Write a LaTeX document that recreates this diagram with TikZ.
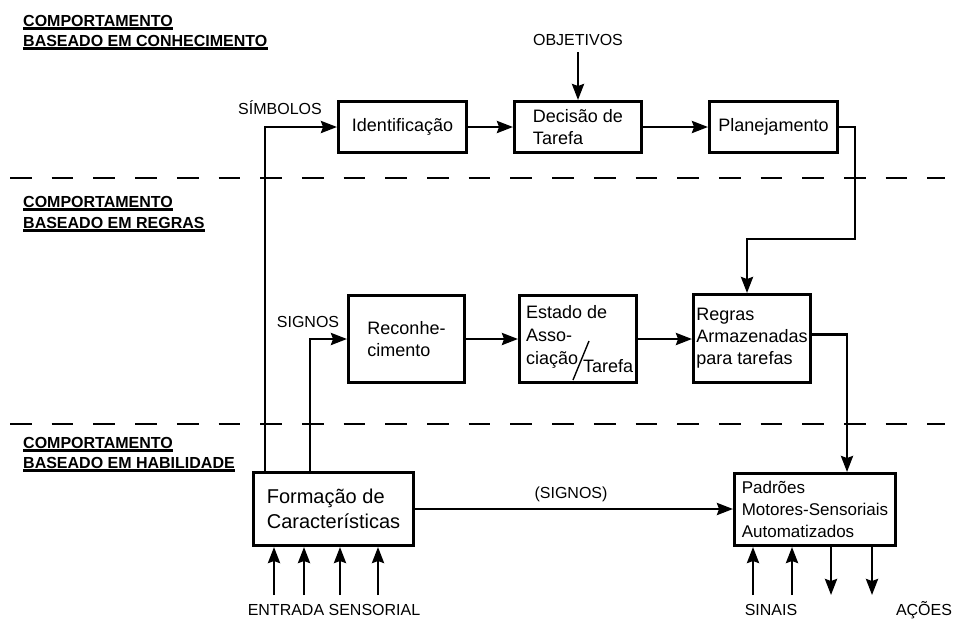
\documentclass[tikz,border=0pt]{standalone}
\usepackage{fontspec}
\setmainfont{Liberation Sans}
\usetikzlibrary{arrows.meta,calc}
\begin{document}
\begin{tikzpicture}[x=1pt,y=-1pt,
  box/.style={draw,line width=2.7pt,inner sep=0pt,align=left,
    font=\fontsize{18}{22}\selectfont},
  conn/.style={line width=2.7pt},
  arr/.style={conn,-{Stealth[length=16pt,width=12pt,inset=2pt]}},
  lbl/.style={inner sep=0pt,anchor=base,font=\fontsize{16}{19}\selectfont},
  txt/.style={inner sep=0pt,anchor=base west,font=\fontsize{18}{22}\selectfont},
  head/.style={inner sep=0pt,anchor=base west,font=\bfseries\fontsize{16}{19}\selectfont},
  uline/.style={line width=2.2pt},
  sep/.style={line width=2.5pt,dash pattern=on 21.7pt off 20pt}]

\useasboundingbox (0,0) rectangle (957,619);

% level headings, each line underlined
\node[head] (h1a) at (23,26) {COMPORTAMENTO};
\node[head] (h1b) at (23,46) {BASEADO EM CONHECIMENTO};
\node[head] (h2a) at (23,207) {COMPORTAMENTO};
\node[head] (h2b) at (23,228) {BASEADO EM REGRAS};
\node[head] (h3a) at (23,448) {COMPORTAMENTO};
\node[head] (h3b) at (23,468) {BASEADO EM HABILIDADE};
\foreach \h in {h1a,h1b,h2a,h2b,h3a,h3b}
  \draw[uline] ([yshift=-2.5pt]\h.base west) -- ([yshift=-2.5pt]\h.base east);

% level separators
\draw[sep] (10,178) -- (945,178);
\draw[sep] (10,424) -- (945,424);

% boxes
\node[box,minimum width=128.3pt,minimum height=51.3pt] (ident) at (402.5,127) {Identificação};
\node[box,minimum width=127.3pt,minimum height=51.3pt] (dec) at (578,127) {Decisão de\\Tarefa};
\node[box,minimum width=128.3pt,minimum height=51.3pt] (plan) at (773.5,127) {Planejamento};
\node[box,minimum width=116.3pt,minimum height=87.3pt] (recon) at (406.5,339) {Reconhe-\\cimento};
\node[box,minimum width=117.3pt,minimum height=87.3pt] (estado) at (578,339) {};
\node[box,minimum width=117.3pt,minimum height=88.3pt] (regras) at (752,338.5) {Regras\\Armazenadas\\para tarefas};
\node[box,minimum width=160.3pt,minimum height=73.3pt,
  font=\fontsize{20}{25}\selectfont] (form) at (333.5,509) {Formação de\\Características};
\node[box,minimum width=161.3pt,minimum height=72.3pt,
  font=\fontsize{17}{22}\selectfont] (padroes) at (815,509.5) {Padrões\\Motores-Sensoriais\\Automatizados};

% text of the association box
\node[txt] (e1) at (526,318) {Estado de};
\node[txt] (e2) at (526,341) {Asso-};
\node[txt] (e3) at (526,364) {ciação};
\node[txt] (e4) at (583,372) {Tarefa};
\coordinate (sl1) at (573,380);
\coordinate (sl2) at (589,341);
\draw[line width=1.4pt] (sl1) -- (sl2);

% labels
\node[lbl] (obj) at (578,45) {OBJETIVOS};
\node[lbl] (simb) at (280,114) {SÍMBOLOS};
\node[lbl] (sig) at (308,327) {SIGNOS};
\node[lbl] (sigp) at (571,498) {(SIGNOS)};
\node[lbl] (entr) at (334,615) {ENTRADA SENSORIAL};
\node[lbl] (sinais) at (771,615) {SINAIS};
\node[lbl] (acoes) at (924,615) {AÇÕES};

% coordinates for the free ends and bends
\coordinate (xs) at (265,0);
\coordinate (xg) at (310,0);
\coordinate (bend) at (855,239);
\coordinate (xr) at (847,0);
\coordinate (i1) at (274,595);
\coordinate (i2) at (304,595);
\coordinate (i3) at (340,595);
\coordinate (i4) at (378,595);
\coordinate (s1) at (753,595);
\coordinate (s2) at (792,595);
\coordinate (a1) at (831,595);
\coordinate (a2) at (872,595);

% connectors
\draw[arr] ([yshift=-7pt]obj.south) -- (dec.north);
\draw[arr] (ident.east) -- (dec.west);
\draw[arr] (dec.east) -- (plan.west);
\draw[arr] (plan.east) -| (bend) -| ([xshift=-5pt]regras.north);
\draw[arr] (form.north -| xs) |- (ident.west);
\draw[arr] (form.north -| xg) |- (recon.west);
\draw[arr] (recon.east) -- (estado.west);
\draw[arr] (estado.east) -- (regras.west |- estado.east);
\draw[arr] ([yshift=4pt]regras.east) -| (padroes.north -| xr);
\draw[arr] (form.east) -- (form.east -| padroes.west);
\foreach \p in {i1,i2,i3,i4}
  \draw[arr] (\p) -- (\p |- form.south);
\foreach \p in {s1,s2}
  \draw[arr] (\p) -- (\p |- padroes.south);
\foreach \p in {a1,a2}
  \draw[arr] (\p |- padroes.south) -- (\p);
\end{tikzpicture}
\end{document}
